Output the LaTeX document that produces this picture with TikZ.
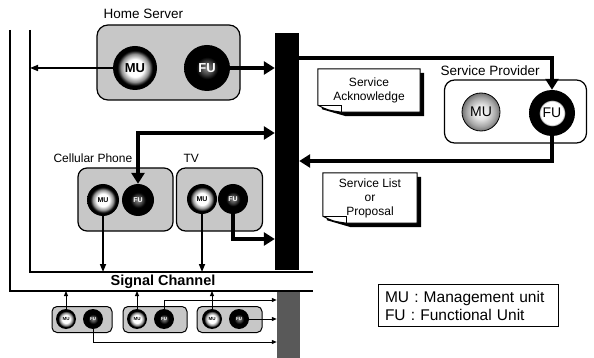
\documentclass[tikz,border=0pt]{standalone}
\usepackage{fontspec}
\setmainfont{Liberation Sans}
\usetikzlibrary{arrows.meta}
\pgfdeclarelayer{bg}
\pgfsetlayers{bg,main}
\colorlet{boxgray}{black!22}
\colorlet{muring}{black!45}
\colorlet{fucore}{black!45}
\colorlet{fumid}{black!75}
\colorlet{spmuA}{black!12}
\colorlet{spmuB}{black!35}
\colorlet{spmuC}{black!55}
\pgfdeclareradialshading{mushade}{\pgfpoint{0bp}{0bp}}{color(0bp)=(white); color(10bp)=(white); color(16bp)=(muring); color(20bp)=(black); color(25bp)=(black); color(50bp)=(black)}
\pgfdeclareradialshading{fushade}{\pgfpoint{0bp}{0bp}}{color(0bp)=(fucore); color(7bp)=(fumid); color(12bp)=(black); color(25bp)=(black); color(50bp)=(black)}
\pgfdeclareradialshading{spmushade}{\pgfpoint{0bp}{0bp}}{color(0bp)=(white); color(10bp)=(spmuA); color(19bp)=(spmuB); color(25bp)=(spmuC); color(50bp)=(spmuC)}
\pgfdeclareradialshading{spfushade}{\pgfpoint{0bp}{0bp}}{color(0bp)=(white); color(13bp)=(white); color(14.2bp)=(black); color(25bp)=(black); color(50bp)=(black)}
\newcommand{\drawnote}[1]{%
  \begin{pgfonlayer}{bg}
  \fill[black] ([shift={(4pt,-4pt)}]#1.north west) -- ([shift={(4pt,-4pt)}]#1.north east) -- ([shift={(4pt,-4pt)}]#1.south east) -- ([shift={(28pt,-4pt)}]#1.south west) -- ([shift={(4pt,3pt)}]#1.south west) -- cycle;
  \filldraw[fill=white, line width=1pt] (#1.north west) -- (#1.north east) -- (#1.south east) -- ([xshift=24pt]#1.south west) .. controls ([shift={(10pt,2pt)}]#1.south west) .. ([yshift=7pt]#1.south west) -- cycle;
  \draw[line width=0.9pt] ([yshift=7pt]#1.south west) -- ([shift={(24pt,7pt)}]#1.south west) -- ([xshift=24pt]#1.south west);
  \end{pgfonlayer}}
\begin{document}
\begin{tikzpicture}[x=1pt,y=-1pt,
  frame/.style={line width=1.3pt},
  dev/.style={draw, line width=1.2pt, rounded corners=9pt, fill=boxgray},
  lbl/.style={font=\fontsize{12}{14}\selectfont},
  unitc/.style={circle, inner sep=0pt, shade},
  mu/.style={unitc, shading=mushade},
  fu/.style={unitc, shading=fushade, text=white},
  thickarr/.style={line width=3.6pt, -{Triangle[length=11pt,width=13pt]}},
  medarr/.style={line width=1.6pt, -{Triangle[length=8pt,width=6pt]}},
  smallarr/.style={line width=1pt, -{Triangle[length=5pt,width=4pt]}},
  note/.style={inner sep=0pt, align=center, font=\fontsize{12}{14.5}\selectfont}
]
\useasboundingbox (0,0) rectangle (594,358);

% signal channel frame
\coordinate (oTop) at (10,30);
\coordinate (oCorner) at (10,291);
\coordinate (oEnd) at (313,291);
\coordinate (iTop) at (30,30);
\coordinate (iCorner) at (30,272);
\coordinate (iEnd) at (313,272);
\draw[frame] (oTop) -- (oCorner) -- (oEnd);
\draw[frame] (iTop) -- (iCorner) -- (iEnd);

% bars
\node[fill=black, inner sep=0pt, minimum width=24pt, minimum height=237pt] (bar) at (287,151.5) {};
\node[fill=black!65, inner sep=0pt, minimum width=23pt, minimum height=66pt] (lbar) at (288.5,325) {};

\node[font=\bfseries\fontsize{14.5}{16}\selectfont] (sig) at (163,282) {Signal Channel};

% Home server
\node[dev, minimum width=143pt, minimum height=75pt, rounded corners=11pt] (hs) at (168.5,62.5) {};
\node[font=\fontsize{13.5}{15}\selectfont, anchor=base west] (hslbl) at (100,19) {Home Server};
\node[mu, minimum size=44pt, font=\bfseries\fontsize{13}{14}\selectfont] (hsMU) at (135,68) {MU};
\node[fu, minimum size=46pt, font=\bfseries\fontsize{13}{14}\selectfont] (hsFU) at (207,68) {FU};
\draw[medarr] (hsMU.west) -- (hsMU.west -| iTop);
\draw[thickarr] (hsFU.east) -- (hsFU.east -| bar.west);

% Service provider
\node[draw, line width=1.2pt, rounded corners=10pt, minimum width=142pt, minimum height=63pt] (sp) at (515.5,111.5) {};
\node[font=\fontsize{13.5}{15}\selectfont, anchor=base west] (splbl) at (437,76) {Service Provider};
\node[unitc, shading=spmushade, draw, line width=0.8pt, minimum size=38pt, font=\fontsize{14}{15}\selectfont] (spMU) at (481,112) {MU};
\node[unitc, shading=spfushade, minimum size=46pt, font=\fontsize{14}{15}\selectfont] (spFU) at (552,113) {FU};
\coordinate (tA) at (552,58);
\coordinate (tB) at (552,161);
\draw[thickarr] (tA -| bar.east) -- (tA) -- (spFU.north);
\draw[thickarr] (spFU.south) -- (tB) -- (tB -| bar.east);

% notes
\node[note, minimum width=102pt, minimum height=43pt] (ack) at (369,90.5) {Service\\Acknowledge};
\drawnote{ack}
\node[note, minimum width=94pt, minimum height=50pt, font=\fontsize{12}{14}\selectfont] (slist) at (370,198) {Service List\\or\\Proposal};
\drawnote{slist}

% Cellular phone
\node[dev, minimum width=95pt, minimum height=63pt] (cp) at (125.5,199.5) {};
\node[lbl, anchor=base west] (cplbl) at (50,163) {Cellular Phone};
\node[mu, minimum size=32pt, font=\bfseries\fontsize{7}{8}\selectfont] (cpMU) at (103,200) {MU};
\node[fu, minimum size=32pt, font=\bfseries\fontsize{7}{8}\selectfont] (cpFU) at (138,200) {FU};
\coordinate (cA) at (138,133);
\draw[thickarr, {Triangle[length=11pt,width=13pt]}-{Triangle[length=11pt,width=13pt]}] (cpFU.north) -- (cA) -- (cA -| bar.west);
\draw[medarr] (cpMU.south) -- (cpMU.south |- iCorner);

% TV
\node[dev, minimum width=86pt, minimum height=63pt] (tv) at (219.5,199.5) {};
\node[lbl, anchor=base west] (tvlbl) at (180,163) {TV};
\node[mu, minimum size=30pt, font=\bfseries\fontsize{7}{8}\selectfont] (tvMU) at (202,199) {MU};
\node[fu, minimum size=30pt, font=\bfseries\fontsize{7}{8}\selectfont] (tvFU) at (233,199) {FU};
\coordinate (vA) at (233,239);
\draw[thickarr] (tvFU.south) -- (vA) -- (vA -| bar.west);
\draw[medarr] (tvMU.south) -- (tvMU.south |- iCorner);

% bottom devices
\node[dev, line width=1pt, rounded corners=5pt, minimum width=60pt, minimum height=26pt] (b1) at (82,319.5) {};
\node[dev, line width=1pt, rounded corners=5pt, minimum width=64pt, minimum height=26pt] (b2) at (155,319.5) {};
\node[dev, line width=1pt, rounded corners=5pt, minimum width=65pt, minimum height=26pt] (b3) at (229.5,319.5) {};
\node[mu, minimum size=20pt, font=\bfseries\fontsize{4.5}{5}\selectfont] (b1MU) at (66,319) {MU};
\node[fu, minimum size=20pt, font=\bfseries\fontsize{4.5}{5}\selectfont] (b1FU) at (93,319) {FU};
\node[mu, minimum size=20pt, font=\bfseries\fontsize{4.5}{5}\selectfont] (b2MU) at (137,319) {MU};
\node[fu, minimum size=20pt, font=\bfseries\fontsize{4.5}{5}\selectfont] (b2FU) at (164,319) {FU};
\node[mu, minimum size=20pt, font=\bfseries\fontsize{4.5}{5}\selectfont] (b3MU) at (212,319) {MU};
\node[fu, minimum size=20pt, font=\bfseries\fontsize{4.5}{5}\selectfont] (b3FU) at (239,319) {FU};
\draw[smallarr] (b1MU.north) -- (b1MU.north |- oCorner);
\draw[smallarr] (b2MU.north) -- (b2MU.north |- oCorner);
\draw[smallarr] (b3MU.north) -- (b3MU.north |- oCorner);
\coordinate (d2) at (164,300);
\coordinate (d1) at (93,342);
\draw[smallarr] (b2FU.north) -- (d2) -- (d2 -| lbar.west);
\draw[smallarr] (b3FU.east) -- (b3FU.east -| lbar.west);
\draw[smallarr] (b1FU.south) -- (d1) -- (d1 -| lbar.west);

% legend
\node[draw, line width=0.8pt, inner xsep=7pt, inner ysep=6pt, text width=166pt, align=left, font=\fontsize{15.5}{18}\selectfont] (leg) at (468,305.5) {MU : Management unit\\FU : Functional Unit};
\end{tikzpicture}
\end{document}
